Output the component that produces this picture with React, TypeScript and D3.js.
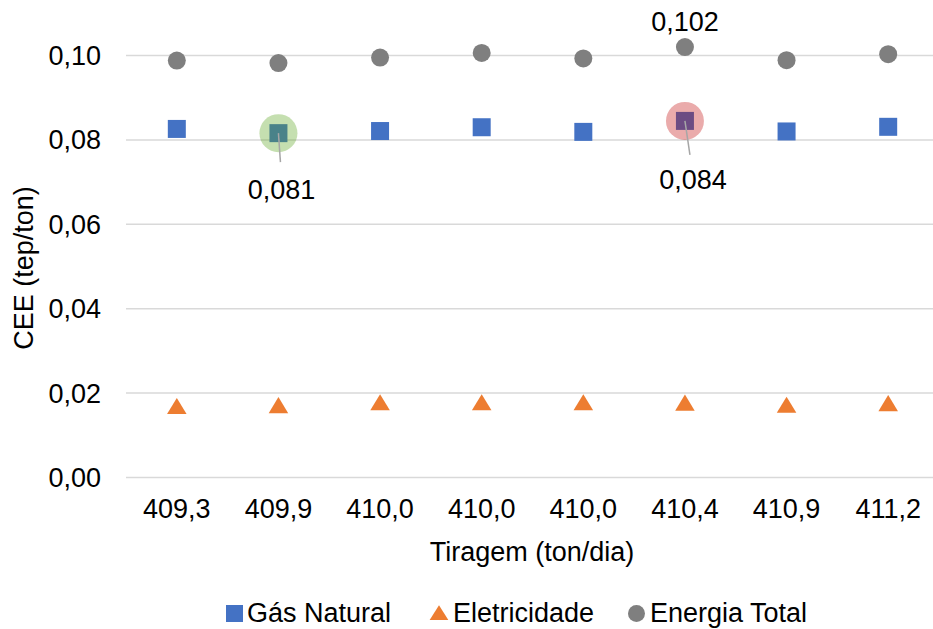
import React from "react";
import * as d3 from "d3";

const categories = ["409,3", "409,9", "410,0", "410,0", "410,0", "410,4", "410,9", "411,2"];
const gasNatural = [0.0826, 0.0816, 0.0821, 0.083, 0.0819, 0.0845, 0.082, 0.0831];
const eletricidade = [0.0163, 0.0165, 0.0172, 0.0172, 0.0172, 0.0171, 0.0166, 0.017];
const energiaTotal = [0.0988, 0.0982, 0.0995, 0.1006, 0.0993, 0.102, 0.0989, 0.1003];
const yTicks = [0, 0.02, 0.04, 0.06, 0.08, 0.1];

const W = 933;
const H = 629;
const FONT = "'Liberation Sans', Arial, sans-serif";
const FS = 27;
const BLUE = "#4472c4";
const ORANGE = "#ed7d31";
const GRAY = "#7f7f7f";

const fmt = d3.formatLocale({ decimal: ",", thousands: ".", grouping: [3], currency: ["", ""] });
const fmt2 = fmt.format(".2f");
const fmt3 = fmt.format(".3f");

export default function App() {
  const x = d3.scaleBand<number>().domain(categories.map((_, i) => i)).range([126, 939]);
  const y = d3.scaleLinear().domain([0, 0.1]).range([477.5, 55.5]);
  const cx = (i: number) => (x(i) as number) + x.bandwidth() / 2;
  const sq = 18;
  const tri = d3.symbol().type(d3.symbolTriangle).size(150)();
  const triLeg = d3.symbol().type(d3.symbolTriangle).size(125)();

  return (
    <svg width={W} height={H} style={{ position: "absolute", left: 0, top: 0, background: "#fff" }} fontFamily={FONT}>
      {yTicks.map((t) => (
        <g key={t}>
          <line x1={126} x2={939} y1={y(t)} y2={y(t)} stroke="#d9d9d9" strokeWidth={1.5} />
          <text x={101} y={y(t)} dy="0.35em" textAnchor="end" fontSize={FS} fill="#000">
            {fmt2(t)}
          </text>
        </g>
      ))}
      {categories.map((c, i) => (
        <text key={i} x={cx(i)} y={518} textAnchor="middle" fontSize={FS} fill="#000">
          {c}
        </text>
      ))}
      <text x={532} y={561} textAnchor="middle" fontSize={FS} fill="#000">
        Tiragem (ton/dia)
      </text>
      <text transform={`translate(33,${268}) rotate(-90)`} textAnchor="middle" fontSize={FS} fill="#000">
        CEE (tep/ton)
      </text>

      {energiaTotal.map((v, i) => (
        <circle key={"e" + i} cx={cx(i)} cy={y(v)} r={9} fill={GRAY} />
      ))}
      {gasNatural.map((v, i) => (
        <rect key={"g" + i} x={cx(i) - sq / 2} y={y(v) - sq / 2} width={sq} height={sq} fill={BLUE} />
      ))}
      {eletricidade.map((v, i) => (
        <path key={"t" + i} d={tri as string} transform={`translate(${cx(i)},${y(v)}) scale(1.05,1)`} fill={ORANGE} />
      ))}

      {/* highlights */}
      <circle cx={cx(1)} cy={y(gasNatural[1])} r={19} fill="#55a218" opacity={0.34} />
      <circle cx={cx(5)} cy={y(gasNatural[5])} r={19} fill="#c00000" opacity={0.33} />

      {/* annotations */}
      <line x1={cx(1)} y1={y(gasNatural[1])} x2={cx(1) + 2} y2={y(gasNatural[1]) + 29} stroke="#a6a6a6" strokeWidth={1.5} />
      <text x={cx(1) + 3} y={199} textAnchor="middle" fontSize={FS} fill="#000">
        {fmt3(0.081)}
      </text>
      <line x1={cx(5)} y1={y(gasNatural[5])} x2={cx(5) + 5} y2={y(gasNatural[5]) + 34} stroke="#a6a6a6" strokeWidth={1.5} />
      <text x={cx(5) + 8} y={189} textAnchor="middle" fontSize={FS} fill="#000">
        {fmt3(0.084)}
      </text>
      <text x={cx(5)} y={31} textAnchor="middle" fontSize={FS} fill="#000">
        {fmt3(0.102)}
      </text>

      {/* legend */}
      <g fontSize={FS} fill="#000">
        <rect x={226} y={605} width={17} height={17} fill={BLUE} />
        <text x={247} y={622}>Gás Natural</text>
        <path d={triLeg as string} transform="translate(439,615) scale(1.1,1)" fill={ORANGE} />
        <text x={453} y={622}>Eletricidade</text>
        <circle cx={636.5} cy={613.5} r={8.5} fill={GRAY} />
        <text x={650} y={622}>Energia Total</text>
      </g>
    </svg>
  );
}
